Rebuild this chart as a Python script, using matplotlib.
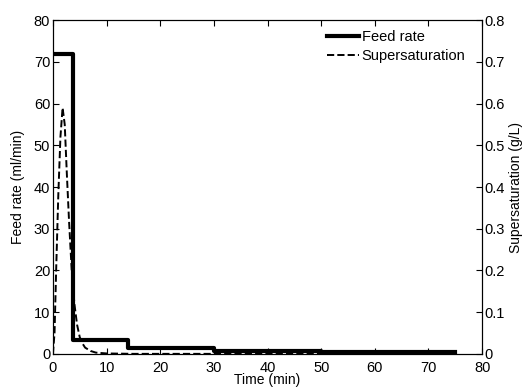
import numpy as np
import matplotlib.pyplot as plt

plt.rcParams['font.family'] = ['Liberation Sans', 'DejaVu Sans']

# feed rate profile (step changes)
t_feed = [0, 3.7, 14, 30, 50, 75]
feed = [72, 3.3, 1.4, 0.6, 0.5, 0.5]

# supersaturation
t_ss = [0, 0.3, 0.6, 1.0, 1.4, 1.8, 2.2, 2.6, 3.0, 3.5, 4.0, 4.5, 5.0, 5.5, 6.0,
        7.0, 8.0, 10, 15, 20, 30, 40, 50, 60, 70, 75]
ss = [0, 0.05, 0.2, 0.38, 0.52, 0.59, 0.55, 0.43, 0.32, 0.2, 0.12, 0.07, 0.04,
      0.025, 0.015, 0.007, 0.003, 0.001, 0, 0, 0, 0, 0, 0, 0, 0]

fig = plt.figure(figsize=(5.24, 3.88), dpi=100)
ax = fig.add_axes([0.101, 0.088, 0.819, 0.86])
ax2 = ax.twinx()

l1, = ax.plot(t_feed, feed, drawstyle='steps-post', color='black', lw=3, label='Feed rate')
l2, = ax2.plot(t_ss, ss, '--', color='black', lw=1.4, label='Supersaturation')

ax.set_xlim(0, 80)
ax.set_ylim(0, 80)
ax2.set_ylim(0, 0.8)
ax.set_xticks(np.arange(0, 81, 10))
ax.set_yticks(np.arange(0, 81, 10))
ax2.set_yticks(np.arange(0, 0.81, 0.1))
ax2.set_yticklabels(['0', '0.1', '0.2', '0.3', '0.4', '0.5', '0.6', '0.7', '0.8'])

ax.tick_params(direction='in', top=True, labelsize=10.5, length=4, pad=2)
ax.tick_params(axis='x', pad=5)
ax2.tick_params(direction='in', labelsize=10.5, length=4, pad=2)

ax.set_xlabel('Time (min)', fontsize=10, labelpad=-1)
ax.set_ylabel('Feed rate (ml/min)', fontsize=10, labelpad=6)
ax2.set_ylabel('Supersaturation (g/L)', fontsize=10, labelpad=3)

ax.legend([l1, l2], ['Feed rate', 'Supersaturation'], loc='upper right',
          frameon=False, fontsize=10.5, handlelength=2.2, handletextpad=0.2,
          borderaxespad=0.3, labelspacing=0.3, bbox_to_anchor=(0.985, 1.0))

fig.savefig('out.png', dpi=100)
